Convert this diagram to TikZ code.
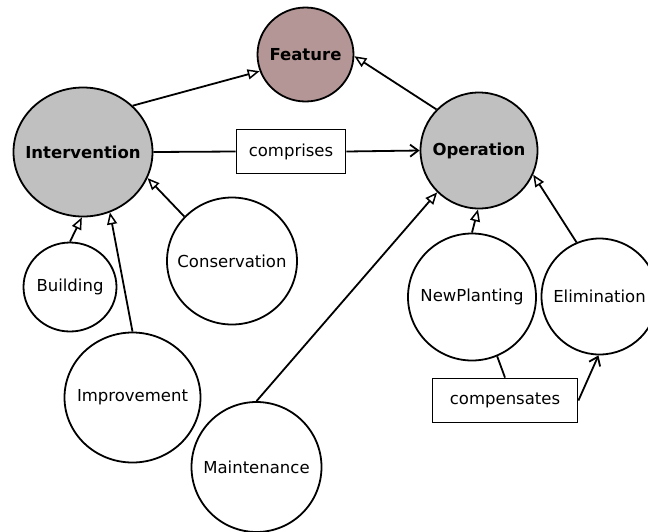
\documentclass[tikz,border=0pt]{standalone}
\usepackage{fontspec}
\setmainfont{DejaVu Sans}
\usetikzlibrary{shapes.geometric,arrows.meta}
\definecolor{featfill}{HTML}{B49696}
\definecolor{classfill}{HTML}{C0C0C0}
\tikzset{
  cls/.style={ellipse, draw=black, line width=1.8pt, inner sep=0pt,
    label={[font=\fontsize{16.5}{18}\selectfont]center:#1}},
  mainc/.style={ellipse, draw=black, line width=1.8pt, inner sep=0pt, fill=classfill,
    label={[font=\fontsize{16.5}{18}\selectfont\bfseries]center:#1}},
  rel/.style={rectangle, draw=black, line width=1.8pt, fill=white, inner sep=0pt, font=\fontsize{16.5}{18}\selectfont},
  isa/.style={line width=1.8pt, -{Triangle[open, length=12pt, width=10pt, line width=1.5pt]}},
  assoc/.style={line width=1.8pt, -{Straight Barb[length=8pt, width=12pt, line width=1.8pt]}},
  plain/.style={line width=1.8pt}
}
\begin{document}
\begin{tikzpicture}[x=1pt,y=-1pt]
\useasboundingbox (0,0) rectangle (648,531);
\begin{scope}
\clip (0,0) rectangle (648,531);
\node[mainc=Feature, fill=featfill, minimum width=96pt, minimum height=94pt] (feat) at (305.5,54.5) {};
\node[mainc=Intervention, minimum width=139pt, minimum height=129pt] (intv) at (83,152) {};
\node[mainc=Operation, minimum width=117pt, minimum height=116pt] (op) at (479,150.5) {};
\node[rel, minimum width=109pt, minimum height=44pt] (comp) at (291,151.5) {comprises};
\node[cls=Conservation, minimum width=130pt, minimum height=127pt] (cons) at (232,261) {};
\node[cls=Building, minimum width=93pt, minimum height=89pt] (bld) at (70,287) {};
\node[cls=Improvement, minimum width=136pt, minimum height=130pt] (impr) at (132.5,397.5) {};
\node[cls=Maintenance, minimum width=130pt, minimum height=130pt] (maint) at (256.5,467) {};
\node[cls=NewPlanting, minimum width=128pt, minimum height=127pt] (np) at (472,297) {};
\node[cls=Elimination, minimum width=116pt, minimum height=116pt] (elim) at (599.5,296.5) {};
\node[rel, minimum width=145pt, minimum height=44pt] (cmp) at (505,400.5) {compensates};

\draw[isa] (intv.43) -- (feat.200);
\draw[isa] (op.136) -- (feat.-2);
\draw[plain] (intv.east) -- (comp.west);
\draw[assoc] (comp.east) -- (op.west);
\draw[isa] (bld.90) -- (intv.-91);
\draw[isa] (impr.90) -- (intv.-66);
\draw[isa] (cons.137) -- (intv.-22);
\draw[isa] (maint.90) -- (op.225);
\draw[isa] (np.90) -- (op.-91);
\draw[isa] (elim.113) -- (op.-24);
\draw[plain] (np.-67) -- (cmp.north);
\draw[assoc] (cmp.east) -- (elim.-91);
\end{scope}
\end{tikzpicture}
\end{document}
